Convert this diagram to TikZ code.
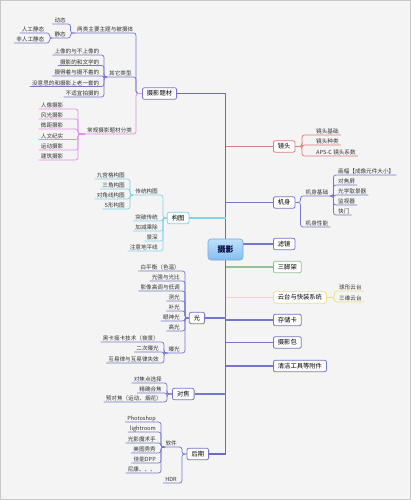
\documentclass[tikz,border=0pt]{standalone}
\usepackage{fontspec}
\newfontfamily\cjk{Noto Sans CJK SC}
\usetikzlibrary{backgrounds}
\definecolor{pur}{HTML}{7676CE}
\definecolor{trk}{HTML}{6A6AC6}
\definecolor{cya}{HTML}{7FD4EA}
\definecolor{mred}{HTML}{DE7C7C}
\definecolor{grn}{HTML}{92C292}
\definecolor{yel}{HTML}{F0DE84}
\definecolor{pnk}{HTML}{E38EE3}
\definecolor{bgc}{HTML}{F4F4F4}
\definecolor{frm}{HTML}{C8C8C8}
\definecolor{txt}{HTML}{333333}
\definecolor{hubtop}{HTML}{BEE0FB}
\definecolor{hubbot}{HTML}{86BEF0}
\definecolor{hubdraw}{HTML}{74AAE2}
\begin{document}
\begin{tikzpicture}[x=1pt,y=-1pt,
  mbox/.style={draw=#1, fill=white, rounded corners=2pt, line width=0.8pt,
    font=\cjk\fontsize{6.3}{7}\selectfont, text=black, inner xsep=4.5pt, inner ysep=0pt,
    minimum height=11.5pt, text height=5.3pt, text depth=1.1pt},
  mbox/.default=pur,
  leaf/.style={font=\cjk\fontsize{5.6}{6}\selectfont, text=txt, inner xsep=2pt,
    inner ysep=0.4pt, text height=4.8pt, text depth=0.7pt},
  hub/.style={draw=hubdraw, top color=hubtop, bottom color=hubbot, rounded corners=3pt,
    minimum width=35pt, minimum height=21pt, line width=0.6pt,
    font=\cjk\bfseries\fontsize{8}{9}\selectfont, text=black!75!blue},
  subl/.style={draw=#1, line width=0.7pt, rounded corners=2.5pt},
  subl/.default=pur,
  mainl/.style={draw=#1, line width=1.1pt},
  mainl/.default=trk,
]
\useasboundingbox (0,0) rectangle (411,500);

% ---------- main topics ----------
\node[hub] (c) at (225.5,249.5) {摄影};
\node[mbox=pur, anchor=east] (tp) at (177,93.5) {摄影题材};
\node[mbox=cya, anchor=east] (gt) at (189.3,218) {构图};
\node[mbox=pur, anchor=east] (gg) at (205,318) {光};
\node[mbox=pur, anchor=east] (dj) at (194.5,394) {对焦};
\node[mbox=pur, anchor=east] (hq) at (209,454) {后期};
\node[mbox=mred, anchor=west] (jt) at (273,146.5) {镜头};
\node[mbox=pur, anchor=west] (js) at (273,202.5) {机身};
\node[mbox=pur, anchor=west] (lj) at (273,244) {滤镜};
\node[mbox=grn, anchor=west] (sjj) at (273,267) {三脚架};
\node[mbox=yel, anchor=west] (yt) at (273,297.5) {云台与快装系统};
\node[mbox=pur, anchor=west] (cck) at (273,320) {存储卡};
\node[mbox=pur, anchor=west] (syb) at (273,342.5) {摄影包};
\node[mbox=pur, anchor=west] (qj) at (273,366) {清洁工具等附件};

% ---------- 摄影题材 ----------
\coordinate (s1) at (136,0);
\node[leaf, anchor=south west] (L1) at (75,33) {两类主要主题与被摄体};
\coordinate (sA) at (70.5,0);
\node[leaf, anchor=south east] (a1) at (68,24) {动态};
\node[leaf, anchor=south east] (a2) at (68,38) {静态};
\coordinate (sB) at (49.5,0);
\node[leaf, anchor=south east] (b1) at (46.5,33) {人工静态};
\node[leaf, anchor=south east] (b2) at (46.5,43) {非人工静态};
\node[leaf, anchor=south west] (L2) at (107,77) {其它类型};
\coordinate (sC) at (104,0);
\node[leaf, anchor=south east] (c1) at (101.5,55) {上像的与不上像的};
\node[leaf, anchor=south east] (c2) at (101.5,65.5) {摄影的和文学的};
\node[leaf, anchor=south east] (c3) at (101.5,76) {摄得着与摄不着的};
\node[leaf, anchor=south east] (c4) at (101.5,86.5) {没意思的和摄影上老一套的};
\node[leaf, anchor=south east] (c5) at (101.5,97) {不适宜拍摄的};
\node[leaf, anchor=south west] (L3) at (85,134) {常规摄影题材分类};
\coordinate (sD) at (78,0);
\node[leaf, anchor=south east] (d1) at (65.5,109) {人像摄影};
\node[leaf, anchor=south east] (d2) at (65.5,119) {风光摄影};
\node[leaf, anchor=south east] (d3) at (65.5,129) {微距摄影};
\node[leaf, anchor=south east] (d4) at (65.5,139.5) {人文纪实};
\node[leaf, anchor=south east] (d5) at (65.5,150) {运动摄影};
\node[leaf, anchor=south east] (d6) at (65.5,160) {建筑摄影};

% ---------- 构图 ----------
\coordinate (sE) at (163,0);
\node[leaf, anchor=south east] (T1) at (160,195) {传统构图};
\coordinate (sF) at (130,0);
\node[leaf, anchor=south east] (e1) at (127,179) {九宫格构图};
\node[leaf, anchor=south east] (e2) at (127,189) {三角构图};
\node[leaf, anchor=south east] (e3) at (127,199) {对角线构图};
\node[leaf, anchor=south east] (e4) at (127,209) {S形构图};
\node[leaf, anchor=south east] (f1) at (160,221) {突破传统};
\node[leaf, anchor=south east] (f2) at (160,231) {加减乘除};
\node[leaf, anchor=south east] (f3) at (160,241) {景深};
\node[leaf, anchor=south east] (f4) at (160,251) {注意地平线};

% ---------- 光 ----------
\coordinate (sG) at (185,0);
\node[leaf, anchor=south east] (g1) at (182,271) {白平衡（色温）};
\node[leaf, anchor=south east] (g2) at (182,281) {光强与光比};
\node[leaf, anchor=south east] (g3) at (182,291) {影像高调与低调};
\node[leaf, anchor=south east] (g4) at (182,301) {测光};
\node[leaf, anchor=south east] (g5) at (182,311) {补光};
\node[leaf, anchor=south east] (g6) at (182,321) {眼神光};
\node[leaf, anchor=south east] (g7) at (182,331) {高光};
\node[leaf, anchor=south east] (B1) at (182,353) {曝光};
\coordinate (sH) at (164,0);
\node[leaf, anchor=south east] (h1) at (161,342) {黑卡摇卡技术（夜景）};
\node[leaf, anchor=south east] (h2) at (161,352) {二次曝光};
\node[leaf, anchor=south east] (h3) at (161,363) {互易律与互易律失效};

% ---------- 对焦 ----------
\coordinate (sI) at (167,0);
\node[leaf, anchor=south east] (i1) at (164,383) {对焦点选择};
\node[leaf, anchor=south east] (i2) at (164,393) {精确合焦};
\node[leaf, anchor=south east] (i3) at (164,402) {预对焦（运动、烟花）};

% ---------- 后期 ----------
\coordinate (sJ) at (182,0);
\node[leaf, anchor=south east] (R1) at (179,447) {软件};
\node[leaf, anchor=south east] (k7) at (179,483) {HDR};
\coordinate (sK) at (161,0);
\node[leaf, anchor=south east] (k1) at (158,422) {Photoshop};
\node[leaf, anchor=south east] (k2) at (158,432) {lightroom};
\node[leaf, anchor=south east] (k3) at (158,443) {光影魔术手};
\node[leaf, anchor=south east] (k4) at (158,453) {美图秀秀};
\node[leaf, anchor=south east] (k5) at (158,463) {佳能DPP};
\node[leaf, anchor=south east] (k6) at (158,473) {尼康、、、};

% ---------- 镜头 ----------
\coordinate (sL) at (302,0);
\node[leaf, anchor=south west] (m1) at (314,135) {镜头基础};
\node[leaf, anchor=south west] (m2) at (314,145) {镜头种类};
\node[leaf, anchor=south west] (m3) at (314,156) {APS-C 镜头系数};

% ---------- 机身 ----------
\coordinate (sM) at (300.5,0);
\node[leaf, anchor=south west] (J1) at (303.5,196) {机身基础};
\node[leaf, anchor=south west] (J2) at (303.5,227) {机身性能};
\coordinate (sN) at (333.5,0);
\node[leaf, anchor=south west] (n1) at (336,175) {画幅【成像元件大小】};
\node[leaf, anchor=south west] (n2) at (336,185) {对焦屏};
\node[leaf, anchor=south west] (n3) at (336,195) {光学取景器};
\node[leaf, anchor=south west] (n4) at (336,205) {监视器};
\node[leaf, anchor=south west] (n5) at (336,215) {快门};

% ---------- 云台 ----------
\coordinate (sO) at (334.5,0);
\node[leaf, anchor=south west] (o1) at (337,291) {球形云台};
\node[leaf, anchor=south west] (o2) at (337,302) {三维云台};

% ---------- background & connectors ----------
\begin{scope}[on background layer]
  \fill[frm] (0,0) rectangle (411,500);
  \fill[bgc] (1,1) rectangle (410,498.5);
  % trunk
  \draw[mainl=trk] (c.center) |- (tp.east);
  \draw[mainl=trk] (c.center) |- (hq.east);
  \draw[mainl=cya] (c.center |- gt.east) -- (gt.east);
  \draw[mainl=pur] (c.center |- gg.east) -- (gg.east);
  \draw[mainl=pur] (c.center |- dj.east) -- (dj.east);
  \draw[mainl=mred] (c.center |- jt.west) -- (jt.west);
  \draw[mainl=pur] (c.center |- js.west) -- (js.west);
  \draw[mainl=pur] (c.center |- lj.west) -- (lj.west);
  \draw[mainl=grn] (c.center |- sjj.west) -- (sjj.west);
  \draw[mainl=yel] (c.center |- yt.west) -- (yt.west);
  \draw[mainl=pur] (c.center |- cck.west) -- (cck.west);
  \draw[mainl=pur] (c.center |- syb.west) -- (syb.west);
  \draw[mainl=pur] (c.center |- qj.west) -- (qj.west);
  % 摄影题材
  \foreach \n in {L1,L2}
    \draw[subl=pur] (\n.south west) -- (\n.south west -| s1) |- (tp.west);
  \draw[subl=pnk] (L3.south west) -- (L3.south west -| s1) |- (tp.west);
  \foreach \n in {a1,a2}
    \draw[subl=pur] (\n.south west) -- (\n.south west -| sA) |- (L1.south west);
  \foreach \n in {b1,b2}
    \draw[subl=pur] (\n.south west) -- (\n.south west -| sB) |- (a2.south west);
  \foreach \n in {c1,c2,c3,c4,c5}
    \draw[subl=pur] (\n.south west) -- (\n.south west -| sC) |- (L2.south west);
  \foreach \n in {d1,d2,d3,d4,d5,d6}
    \draw[subl=pnk] (\n.south west) -- (\n.south west -| sD) |- (L3.south west);
  % 构图
  \foreach \n in {T1,f1,f2,f3,f4}
    \draw[subl=cya] (\n.south west) -- (\n.south west -| sE) |- (gt.west);
  \foreach \n in {e1,e2,e3,e4}
    \draw[subl=cya] (\n.south west) -- (\n.south west -| sF) |- (T1.south west);
  % 光
  \foreach \n in {g1,g2,g3,g4,g5,g6,g7,B1}
    \draw[subl=pur] (\n.south west) -- (\n.south west -| sG) |- (gg.west);
  \foreach \n in {h1,h2,h3}
    \draw[subl=pur] (\n.south west) -- (\n.south west -| sH) |- (B1.south west);
  % 对焦
  \foreach \n in {i1,i2,i3}
    \draw[subl=pur] (\n.south west) -- (\n.south west -| sI) |- (dj.west);
  % 后期
  \foreach \n in {R1,k7}
    \draw[subl=pur] (\n.south west) -- (\n.south west -| sJ) |- (hq.west);
  \foreach \n in {k1,k2,k3,k4,k5,k6}
    \draw[subl=pur] (\n.south west) -- (\n.south west -| sK) |- (R1.south west);
  % 镜头
  \foreach \n in {m1,m2,m3}
    \draw[subl=mred] (jt.east) -- (jt.east -| sL) |- (\n.south east);
  % 机身
  \foreach \n in {J1,J2}
    \draw[subl=pur] (js.east) -- (js.east -| sM) |- (\n.south east);
  \foreach \n in {n1,n2,n3,n4,n5}
    \draw[subl=pur] (J1.south east) -- (J1.south east -| sN) |- (\n.south east);
  % 云台
  \foreach \n in {o1,o2}
    \draw[subl=yel] (yt.east) -- (yt.east -| sO) |- (\n.south east);
\end{scope}
\end{tikzpicture}
\end{document}
